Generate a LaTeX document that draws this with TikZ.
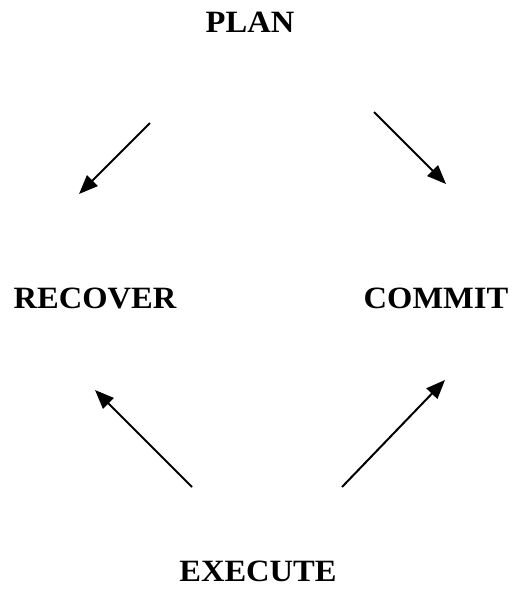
\documentclass[tikz,border=0pt]{standalone}
\usepackage{fontspec}
\setmainfont{Liberation Serif}[FakeStretch=1.05]
\usetikzlibrary{arrows.meta}
\begin{document}
\begin{tikzpicture}[x=1pt,y=-1pt,
  lbl/.style={font=\fontsize{31}{34}\selectfont\bfseries, inner sep=0pt, anchor=base},
  arr/.style={line width=2pt, -{Triangle[length=19pt,width=15pt]}}]
\useasboundingbox (0,0) rectangle (515,592);
\node[lbl] (plan) at (250,32) {PLAN};
\node[lbl] (recover) at (95,308) {RECOVER};
\node[lbl] (commit) at (436,308) {COMMIT};
\node[lbl] (execute) at (258,581) {EXECUTE};
\coordinate (a1s) at (150,123); \coordinate (a1e) at (79,194);
\coordinate (a2s) at (374,112); \coordinate (a2e) at (446,184);
\coordinate (a3s) at (192,487); \coordinate (a3e) at (95,390);
\coordinate (a4s) at (342,487); \coordinate (a4e) at (445,380);
\draw[arr] (a1s) -- (a1e);
\draw[arr] (a2s) -- (a2e);
\draw[arr] (a3s) -- (a3e);
\draw[arr] (a4s) -- (a4e);
\end{tikzpicture}
\end{document}
